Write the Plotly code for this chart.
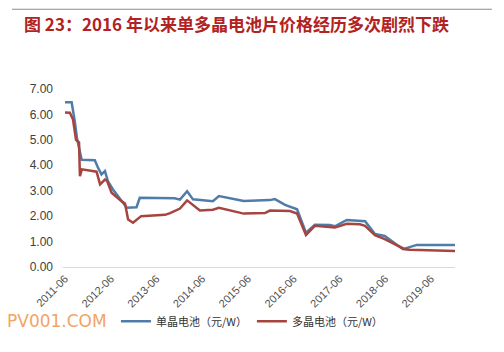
import plotly.graph_objects as go

# ---- data ----
mono_dates = ["2011-06-01", "2011-07-24", "2011-08-19", "2011-09-05", "2011-10-12", "2012-01-25",
              "2012-02-18", "2012-03-18", "2012-04-15", "2012-05-08", "2012-06-18", "2012-08-13",
              "2012-10-06", "2012-12-23", "2013-01-18", "2013-10-24", "2013-12-05", "2014-01-31",
              "2014-03-19", "2014-08-25", "2014-10-12", "2015-04-28", "2015-11-23", "2016-01-02",
              "2016-03-23", "2016-06-27", "2016-09-06", "2016-11-16", "2017-03-16", "2017-04-25",
              "2017-07-29", "2017-12-22", "2018-03-11", "2018-05-28", "2018-08-16", "2018-10-20",
              "2019-02-08", "2019-12-20"]
mono_price = [6.48, 6.48, 5.70, 5.05, 4.22, 4.20,
              3.92, 3.64, 3.77, 3.38, 3.05, 2.66,
              2.33, 2.35, 2.72, 2.70, 2.65, 2.98,
              2.66, 2.59, 2.79, 2.60, 2.63, 2.67,
              2.44, 2.27, 1.35, 1.66, 1.65, 1.60,
              1.85, 1.80, 1.30, 1.22, 0.95, 0.70,
              0.87, 0.86]

poly_dates = ["2011-06-01", "2011-07-10", "2011-08-04", "2011-08-28", "2011-09-21", "2011-09-28",
              "2011-10-14", "2012-02-08", "2012-03-07", "2012-04-15", "2012-05-01", "2012-06-07",
              "2012-08-25", "2012-09-22", "2012-10-17", "2012-11-25", "2013-01-29", "2013-08-08",
              "2013-09-17", "2013-12-05", "2014-01-31", "2014-05-13", "2014-08-25", "2014-10-12",
              "2015-04-28", "2015-10-14", "2015-11-23", "2016-05-01", "2016-06-27", "2016-09-06",
              "2016-11-16", "2017-04-25", "2017-07-29", "2017-11-10", "2017-12-22", "2018-03-11",
              "2018-05-28", "2018-08-16", "2018-11-04", "2018-12-14", "2019-12-20"]
poly_price = [6.08, 6.07, 5.80, 5.00, 4.90, 3.57,
              3.84, 3.75, 3.25, 3.44, 3.40, 2.92,
              2.59, 2.50, 1.87, 1.74, 2.00, 2.05,
              2.12, 2.30, 2.62, 2.22, 2.25, 2.33,
              2.10, 2.12, 2.22, 2.20, 2.10, 1.26,
              1.62, 1.55, 1.70, 1.68, 1.62, 1.25,
              1.10, 0.90, 0.70, 0.68, 0.63]

series_names = ["单晶电池（元/W）", "多晶电池（元/W）"]
y_ticks = [0, 1, 2, 3, 4, 5, 6, 7]
title_text = "图 23：2016 年以来单多晶电池片价格经历多次剧烈下跌"
watermark = "PV001.COM"

BLUE = "#4f7ca8"
RED = "#a6443f"

fig = go.Figure()
fig.add_trace(go.Scatter(x=mono_dates, y=mono_price, mode="lines", name=series_names[0],
                         line=dict(color=BLUE, width=2.5)))
fig.add_trace(go.Scatter(x=poly_dates, y=poly_price, mode="lines", name=series_names[1],
                         line=dict(color=RED, width=2.5)))

fig.update_layout(
    width=504, height=352,
    margin=dict(l=63, r=49, t=89, b=85),
    paper_bgcolor="white", plot_bgcolor="white",
    font=dict(family="Liberation Sans, Arial, sans-serif", size=11, color="#404040"),
    showlegend=True,
    legend=dict(orientation="h", x=0.135, y=-0.305, xanchor="left", yanchor="middle",
                font=dict(family="Noto Sans CJK SC", size=11, color="#333333"),
                itemwidth=30, tracegroupgap=0, bgcolor="rgba(0,0,0,0)"),
    xaxis=dict(type="date", range=["2011-05-16", "2019-12-10"],
               tick0="2011-06-01", dtick="M12", tickformat="%Y-%m", tickangle=-45,
               showgrid=False, showline=True, linecolor="#d9d9d9", linewidth=1,
               ticks="", zeroline=False, tickfont=dict(size=11, color="#505050")),
    yaxis=dict(range=[0, 7], tickvals=y_ticks, tickformat=".2f", showgrid=False,
               showline=False, zeroline=False, ticks="", ticklabelstandoff=9,
               tickfont=dict(size=12, color="#404040")),
)

# title separator line and title text
fig.add_shape(type="line", xref="paper", yref="paper", x0=-0.130, x1=1.094, y0=1.448, y1=1.448,
              line=dict(color="#8c8c8c", width=1))
fig.add_annotation(xref="paper", yref="paper", x=-0.104, y=1.37, xanchor="left", yanchor="middle",
                   text="<b>" + title_text + "</b>", showarrow=False,
                   font=dict(family="Noto Sans CJK SC", size=17, color="#b22222"))
fig.add_annotation(xref="paper", yref="paper", x=-0.148, y=-0.305, xanchor="left", yanchor="middle",
                   text=watermark, showarrow=False,
                   font=dict(family="DejaVu Sans", size=17, color="#f2a466"))

fig.write_html("out.html")
